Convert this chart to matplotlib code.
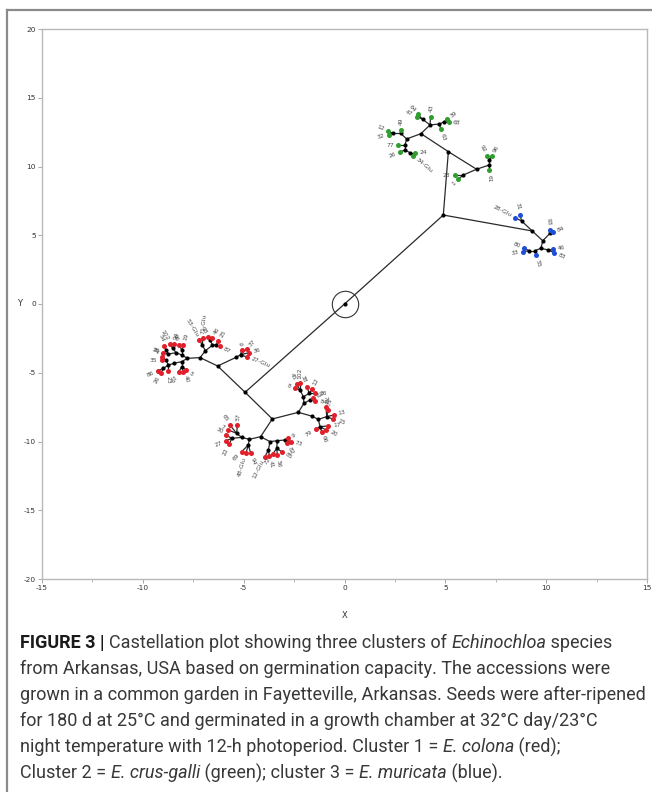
import matplotlib
matplotlib.use('Agg')
import matplotlib.pyplot as plt
import numpy as np
from matplotlib.lines import Line2D
from matplotlib.font_manager import FontProperties

plt.rcParams['axes.unicode_minus'] = False

# ---------------- data ----------------
x_ticks = [-15, -10, -5, 0, 5, 10, 15]
x_minor_ticks = [-12.5, -7.5, -2.5, 2.5, 7.5, 12.5]
y_ticks = [-20, -15, -10, -5, 0, 5, 10, 15, 20]

# (id, parent, x, y, label)  -- backbone of the castellation tree
core_nodes = [
    ('R', None, 0.0, 0.0, ''),
    ('A', 'R', 4.90, 6.47, ''),
    ('B', 'R', -4.93, -6.42, ''),
    ('C', 'A', 5.15, 11.08, ''),
    ('D', 'A', 9.31, 5.31, ''),
    ('E', 'B', -6.29, -4.51, ''),
    ('F', 'B', -3.58, -8.36, ''),
]

# cluster 2 : E. crus-galli (green)
green_nodes = [
    ('C1', 'C', 3.79, 12.39, ''),
    ('C2', 'C', 6.55, 9.80, ''),
    ('C1a', 'C1', 4.24, 13.02, ''),
    ('C1aL', 'C1a', 3.88, 13.43, ''),
    ('g47', 'C1aL', 3.58, 13.62, '47'),
    ('g64', 'C1aL', 3.63, 13.80, '64'),
    ('g43', 'C1a', 4.27, 13.62, '43'),
    ('C1aR', 'C1a', 4.70, 13.09, ''),
    ('C1aR2', 'C1aR', 4.93, 13.24, ''),
    ('g39', 'C1aR2', 5.10, 13.42, '39'),
    ('g68', 'C1aR2', 5.17, 13.21, '68'),
    ('g63', 'C1aR', 4.78, 12.70, '63'),
    ('C1b', 'C1', 3.08, 12.00, ''),
    ('C1b1', 'C1b', 2.79, 12.41, ''),
    ('g49', 'C1b1', 2.79, 12.68, '49'),
    ('C1b2', 'C1b1', 2.42, 12.41, ''),
    ('g12', 'C1b2', 2.17, 12.55, '12'),
    ('g32', 'C1b2', 2.20, 12.32, '32'),
    ('C1c', 'C1b', 3.00, 11.56, ''),
    ('g77', 'C1c', 2.67, 11.56, '77'),
    ('C1c2', 'C1c', 3.00, 11.20, ''),
    ('g26', 'C1c2', 2.75, 11.05, '26'),
    ('C1c3', 'C1c2', 3.25, 11.00, ''),
    ('g24', 'C1c3', 3.48, 11.00, '24'),
    ('g34', 'C1c3', 3.41, 10.80, '34-Glu'),
    ('C2a', 'C2', 5.89, 9.38, ''),
    ('g23', 'C2a', 5.48, 9.38, '23'),
    ('g1', 'C2a', 5.64, 9.07, '1'),
    ('C2b', 'C2', 7.18, 10.11, ''),
    ('C2b1', 'C2b', 7.18, 10.47, ''),
    ('g92', 'C2b1', 7.06, 10.78, '92'),
    ('g96', 'C2b1', 7.30, 10.78, '96'),
    ('g61', 'C2b', 7.18, 9.72, '61'),
]

# cluster 3 : E. muricata (blue)
blue_nodes = [
    ('D1', 'D', 8.78, 6.04, ''),
    ('b28', 'D1', 8.45, 6.28, '28-Glu'),
    ('b31', 'D1', 8.70, 6.50, '31'),
    ('D2', 'D', 9.83, 4.60, ''),
    ('D3', 'D2', 10.19, 5.14, ''),
    ('b93', 'D3', 10.17, 5.38, '93'),
    ('b84', 'D3', 10.35, 5.22, '84'),
    ('D4', 'D2', 9.74, 4.05, ''),
    ('D5', 'D4', 9.44, 3.88, ''),
    ('D6', 'D5', 9.16, 3.88, ''),
    ('b80', 'D6', 8.90, 4.05, '80'),
    ('b33', 'D6', 8.86, 3.80, '33'),
    ('b55', 'D5', 9.49, 3.56, '55'),
    ('D7', 'D4', 10.10, 3.93, ''),
    ('b46', 'D7', 10.35, 3.98, '46'),
    ('b83', 'D7', 10.39, 3.73, '83'),
]

# cluster 1 : E. colona (red), left group
red_left_nodes = [
    ('E1', 'E', -5.38, -3.88, ''),
    ('E1a', 'E1', -5.15, -3.68, ''),
    ('rl6', 'E1a', -5.10, -3.35, '6'),
    ('rl37', 'E1a', -4.85, -3.25, '37'),
    ('rl36', 'E1a', -4.72, -3.54, '36'),
    ('rl27', 'E1a', -4.85, -3.86, '27-Glu'),
    ('E2', 'E', -7.16, -3.90, ''),
    ('E2a', 'E2', -6.90, -3.40, ''),
    ('E2b', 'E2a', -7.05, -2.98, ''),
    ('rl53', 'E2b', -7.20, -2.62, '53-Glu'),
    ('rl71', 'E2b', -7.02, -2.49, '71-Glu'),
    ('E2c', 'E2a', -6.55, -3.00, ''),
    ('E2d', 'E2c', -6.65, -2.65, ''),
    ('rl98', 'E2d', -6.75, -2.42, '98'),
    ('rl46', 'E2d', -6.55, -2.45, '46'),
    ('E2e', 'E2c', -6.35, -2.95, ''),
    ('rl25', 'E2e', -6.25, -2.70, '25'),
    ('rl87', 'E2e', -6.18, -3.08, '87'),
    ('E3', 'E2', -7.79, -3.95, ''),
    ('E3a', 'E3', -8.07, -3.71, ''),
    ('E3b', 'E3a', -8.07, -3.35, ''),
    ('rl96', 'E3b', -8.19, -2.98, '96'),
    ('rl19', 'E3b', -7.99, -2.98, '19'),
    ('E3c', 'E3a', -8.35, -3.54, ''),
    ('E3d', 'E3c', -8.52, -3.22, ''),
    ('rl102', 'E3d', -8.65, -2.91, '102'),
    ('rl94', 'E3d', -8.45, -2.91, '94'),
    ('E3e', 'E3c', -8.73, -3.64, ''),
    ('E3f', 'E3e', -8.85, -3.35, ''),
    ('rl54', 'E3f', -8.93, -3.05, '54'),
    ('rl38', 'E3e', -8.98, -3.54, '38'),
    ('E3g', 'E3', -8.07, -4.19, ''),
    ('E3h', 'E3g', -8.07, -4.56, ''),
    ('rl67', 'E3h', -8.21, -4.92, '67'),
    ('rl40', 'E3h', -7.99, -4.92, '40'),
    ('rl5', 'E3h', -7.85, -4.80, '5'),
    ('E3i', 'E3g', -8.45, -4.31, ''),
    ('E3j', 'E3i', -8.73, -4.44, ''),
    ('E3k', 'E3j', -8.85, -4.10, ''),
    ('rl74', 'E3k', -9.05, -3.85, '74'),
    ('rl35', 'E3k', -9.05, -4.10, '35'),
    ('E3l', 'E3j', -8.98, -4.68, ''),
    ('rl86', 'E3l', -9.25, -4.85, '86'),
    ('rl26', 'E3l', -9.10, -5.00, '26'),
    ('rl23', 'E3j', -8.73, -4.88, '23'),
]

# cluster 1 : E. colona (red), bottom group
red_bottom_nodes = [
    ('F1', 'F', -2.29, -7.88, ''),
    ('F1u', 'F1', -2.01, -7.22, ''),
    ('F1u2', 'F1u', -2.04, -6.74, ''),
    ('F1u3', 'F1u2', -2.21, -6.25, ''),
    ('rb45', 'F1u3', -2.37, -5.82, '45'),
    ('rb102', 'F1u3', -2.21, -5.77, '102'),
    ('rb8', 'F1u3', -2.45, -6.13, '8'),
    ('F1u4', 'F1u2', -1.74, -6.50, ''),
    ('rb38', 'F1u4', -1.88, -6.01, '38'),
    ('rb12', 'F1u4', -1.63, -6.20, '12'),
    ('rb36', 'F1u4', -1.46, -6.50, '36'),
    ('F1u5', 'F1u', -1.71, -6.98, ''),
    ('rb62', 'F1u5', -1.55, -6.86, '62'),
    ('rb84', 'F1u5', -1.46, -7.05, '84'),
    ('F1r', 'F1', -1.63, -8.15, ''),
    ('F1r2', 'F1r', -1.30, -8.39, ''),
    ('F1r3', 'F1r2', -0.88, -8.19, ''),
    ('rb75', 'F1r3', -0.80, -7.71, '75'),
    ('rb76', 'F1r3', -0.92, -7.52, '76'),
    ('rb15', 'F1r3', -0.55, -8.39, '15'),
    ('rb13', 'F1r3', -0.52, -8.07, '13'),
    ('F1r4', 'F1r2', -1.21, -8.92, ''),
    ('rb79', 'F1r4', -1.41, -9.12, '79'),
    ('rb66', 'F1r4', -1.13, -9.29, '66'),
    ('rb20', 'F1r4', -0.92, -9.16, '20'),
    ('rb17', 'F1r4', -0.80, -8.87, '17'),
    ('F2', 'F', -4.16, -9.65, ''),
    ('F2L', 'F2', -4.72, -9.84, ''),
    ('F2L1', 'F2L', -5.10, -9.70, ''),
    ('F2L2', 'F2L1', -5.35, -9.41, ''),
    ('rb65', 'F2L2', -5.68, -8.80, '65'),
    ('rb57', 'F2L2', -5.31, -8.80, '57'),
    ('rb7', 'F2L2', -5.76, -9.16, '7'),
    ('F2L3', 'F2L1', -5.59, -9.77, ''),
    ('rb30', 'F2L3', -5.87, -9.53, '30'),
    ('rb27', 'F2L3', -5.87, -9.94, '27'),
    ('rb22', 'F2L3', -5.71, -10.18, '22'),
    ('F2L4', 'F2L', -4.77, -10.25, ''),
    ('rb69', 'F2L4', -5.10, -10.74, '69'),
    ('rb48', 'F2L4', -4.88, -10.81, '48-Glu'),
    ('rb94', 'F2L4', -4.65, -10.86, '94'),
    ('F2R', 'F2', -3.69, -10.01, ''),
    ('F2R1', 'F2R', -3.33, -9.94, ''),
    ('F2R2', 'F2R1', -2.95, -9.89, ''),
    ('rb9', 'F2R2', -2.78, -9.77, '9'),
    ('rb73', 'F2R2', -2.67, -10.01, '73'),
    ('rb82', 'F2R2', -2.87, -10.13, '82'),
    ('F2R3', 'F2R1', -3.36, -10.50, ''),
    ('rb72', 'F2R3', -3.56, -10.91, '72'),
    ('rb56', 'F2R3', -3.33, -10.98, '56'),
    ('rb85', 'F2R3', -3.12, -10.74, '85'),
    ('F2R4', 'F2R', -3.78, -10.62, ''),
    ('rb12g', 'F2R4', -3.94, -11.10, '12-Glu'),
    ('rb41', 'F2R4', -3.72, -11.05, '41'),
]

cluster_colors = {'red': '#e0202a', 'green': '#2f9e2f', 'blue': '#1f4fd8'}

caption_lines = [
    [("FIGURE 3 | ", "bold", "normal"),
     ("Castellation plot showing three clusters of ", "normal", "normal"),
     ("Echinochloa", "normal", "italic"), (" species", "normal", "normal")],
    [("from Arkansas, USA based on germination capacity. The accessions were", "normal", "normal")],
    [("grown in a common garden in Fayetteville, Arkansas. Seeds were after-ripened", "normal", "normal")],
    [("for 180 d at 25\u00b0C and germinated in a growth chamber at 32\u00b0C day/23\u00b0C", "normal", "normal")],
    [("night temperature with 12-h photoperiod. Cluster 1 = ", "normal", "normal"),
     ("E. colona", "normal", "italic"), (" (red);", "normal", "normal")],
    [("Cluster 2 = ", "normal", "normal"), ("E. crus-galli", "normal", "italic"),
     (" (green); cluster 3 = ", "normal", "normal"), ("E. muricata", "normal", "italic"),
     (" (blue).", "normal", "normal")],
]

# ---------------- figure ----------------
W, H = 652, 792
fig = plt.figure(figsize=(W / 100, H / 100), dpi=100)
fig.patch.set_facecolor('white')

def fx(px):
    return px / W

def fy(py):
    return 1 - py / H

# outer grey frame (top + left)
fig.add_artist(Line2D([fx(7), 1.0], [fy(10), fy(10)], transform=fig.transFigure,
                      color='#8a8a8a', lw=1.6))
fig.add_artist(Line2D([fx(7), fx(7)], [0, fy(10)], transform=fig.transFigure,
                      color='#8a8a8a', lw=1.6))

ax = fig.add_axes([fx(42), fy(579), (647 - 42) / W, (579 - 29) / H])
ax.set_xlim(-15, 15)
ax.set_ylim(-20, 20)
ax.set_xticks(x_ticks)
ax.set_xticks(x_minor_ticks, minor=True)
ax.set_yticks(y_ticks)
ax.tick_params(which='major', length=3, width=0.6, color='#9a9a9a',
               labelsize=5.3, labelcolor='#333333', pad=1.5)
ax.tick_params(which='minor', length=2, width=0.5, color='#9a9a9a')
for s in ax.spines.values():
    s.set_color('#b8b8b8')
    s.set_linewidth(1.0)
ax.set_xlabel('X', fontsize=6, color='#333333')
ax.set_ylabel('Y', fontsize=6, color='#333333', rotation=0, va='center', ha='center')
ax.xaxis.set_label_coords(0.5, -(611 - 579) / 550)
ax.yaxis.set_label_coords((20 - 42) / 605, (579 - 303) / 550)

# assemble tree
groups = [(core_nodes, None), (green_nodes, 'green'), (blue_nodes, 'blue'),
          (red_left_nodes, 'red'), (red_bottom_nodes, 'red')]
pos = {}
for nodes, _ in groups:
    for nid, par, x, y, lab in nodes:
        pos[nid] = (x, y)

# edges
for nodes, _ in groups:
    for nid, par, x, y, lab in nodes:
        if par is not None:
            px_, py_ = pos[par]
            ax.plot([px_, x], [py_, y], color='#2a2a2a', lw=0.9, zorder=2,
                    solid_capstyle='round')

# nodes
for nodes, grp in groups:
    ix = [x for nid, par, x, y, lab in nodes if lab == '']
    iy = [y for nid, par, x, y, lab in nodes if lab == '']
    ax.scatter(ix, iy, s=9, color='black', zorder=3, linewidths=0)
    if grp is not None:
        lx = [x for nid, par, x, y, lab in nodes if lab != '']
        ly = [y for nid, par, x, y, lab in nodes if lab != '']
        ax.scatter(lx, ly, s=13, color=cluster_colors[grp], zorder=4, linewidths=0)

# root circle
ax.plot([0], [0], marker='o', ms=19, mfc='none', mec='#333333', mew=0.8, zorder=3)

# leaf labels, pointing away from parent
for nodes, grp in groups:
    for nid, par, x, y, lab in nodes:
        if lab == '' or par is None:
            continue
        p = ax.transData.transform(pos[par])
        q = ax.transData.transform((x, y))
        d = q - p
        ang = np.degrees(np.arctan2(d[1], d[0]))
        ux, uy = np.cos(np.radians(ang)), np.sin(np.radians(ang))
        if -90 <= ang <= 90:
            rot, ha = ang, 'left'
        else:
            rot, ha = (ang - 180) if ang > 0 else (ang + 180), 'right'
        ax.annotate(lab, xy=(x, y), xytext=(3.2 * ux, 3.2 * uy), textcoords='offset points',
                    rotation=rot, rotation_mode='anchor', ha=ha, va='center',
                    fontsize=4.3, color='#4a4a4a', zorder=5)

# ---------------- caption ----------------
renderer = fig.canvas.get_renderer()
cap_family = ['Roboto', 'DejaVu Sans']

def seg_width(text, size, weight, style):
    fp = FontProperties(family=cap_family, size=size, weight=weight, style=style)
    w1, _, _ = renderer.get_text_width_height_descent(text + 'l', fp, ismath=False)
    w2, _, _ = renderer.get_text_width_height_descent('l', fp, ismath=False)
    return w1 - w2

ref_w = seg_width(caption_lines[2][0][0], 10, 'normal', 'normal')
cap_size = 10 * (645 - 20) / ref_w

line_y = [643, 669, 695, 721, 747, 773]
for yy, segs in zip(line_y, caption_lines):
    xpos = 20.0
    for text, weight, style in segs:
        color = '#1a1a1a' if weight == 'bold' else '#383838'
        fig.text(fx(xpos), fy(yy), text, fontsize=cap_size, family=cap_family,
                 weight=weight, style=style, color=color, ha='left', va='center')
        xpos += seg_width(text, cap_size, weight, style)

fig.savefig('out.png', dpi=100, facecolor='white')
